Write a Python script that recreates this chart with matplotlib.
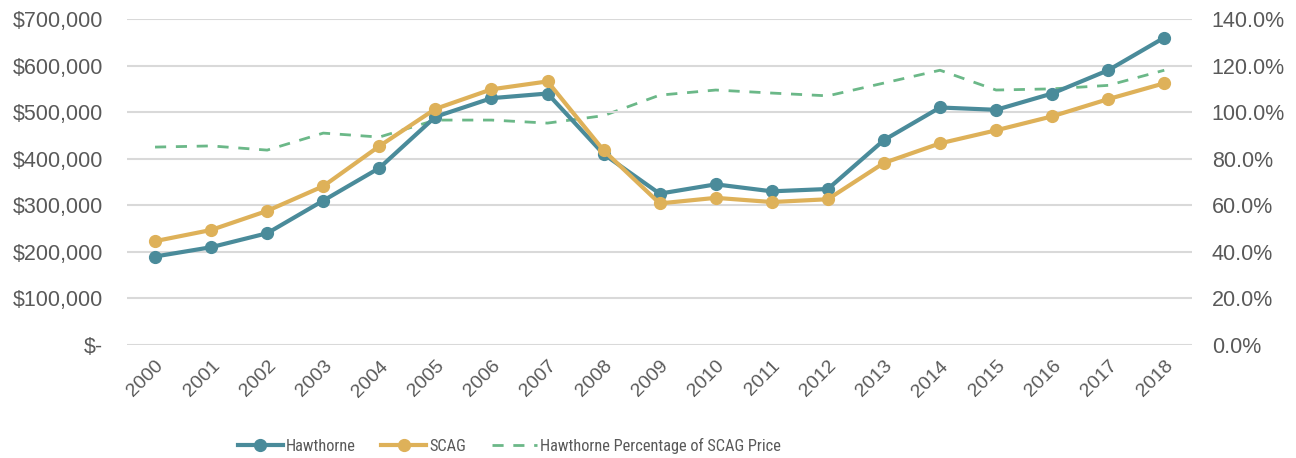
import matplotlib
matplotlib.use("Agg")
import matplotlib.pyplot as plt
from matplotlib.ticker import FuncFormatter, MultipleLocator
from matplotlib import font_manager

years = [str(y) for y in range(2000, 2019)]
hawthorne = [190000, 210000, 240000, 310000, 380000, 490000, 530000, 540000, 410000,
             325000, 345000, 330000, 335000, 440000, 510000, 505000, 540000, 590000, 660000]
scag = [223000, 247000, 288000, 341000, 427000, 507000, 549000, 566000, 418000,
        304000, 316000, 307000, 313000, 391000, 433000, 461000, 491000, 528000, 562000]
pct = [85.0, 85.5, 83.7, 91.0, 89.3, 96.6, 96.6, 95.3, 98.5,
       107.3, 109.5, 108.2, 107.0, 112.5, 118.0, 109.5, 110.0, 111.5, 118.0]

teal = "#4a8b9a"
gold = "#deb159"
green = "#6bb888"
txt = "#595959"

plt.rcParams['font.family'] = ['Liberation Sans', 'DejaVu Sans']

# pick a narrow font for the legend if one is installed
legend_family = 'Liberation Sans'
legend_size = 10.5
for fam, size in [('Liberation Sans Narrow', 12.2), ('Roboto Condensed', 11.8)]:
    try:
        font_manager.findfont(font_manager.FontProperties(family=fam), fallback_to_default=False)
        legend_family, legend_size = fam, size
        break
    except Exception:
        pass

fig = plt.figure(figsize=(12.96, 4.58), dpi=100)
ax = fig.add_axes([0.098, 0.2467, 0.822, 0.7118])
ax2 = ax.twinx()

x = list(range(len(years)))
l1, = ax.plot(x, hawthorne, color=teal, lw=3.0, marker='o', ms=8.5, label='Hawthorne', zorder=3)
l2, = ax.plot(x, scag, color=gold, lw=3.0, marker='o', ms=8.5, label='SCAG', zorder=3)
l3, = ax2.plot(x, pct, color=green, lw=2.0, ls=(0, (4, 3.5)), label='Hawthorne Percentage of SCAG Price', zorder=2)

ax.set_zorder(ax2.get_zorder() + 1)
ax.patch.set_visible(False)

ax.set_ylim(0, 700000)
ax.yaxis.set_major_locator(MultipleLocator(100000))
ax.yaxis.set_major_formatter(FuncFormatter(lambda v, p: "$-" if v == 0 else f"${v:,.0f}"))
ax2.set_ylim(0, 140)
ax2.yaxis.set_major_locator(MultipleLocator(20))
ax2.yaxis.set_major_formatter(FuncFormatter(lambda v, p: f"{v:.1f}%"))
ax.set_xlim(-0.5, 18.5)
ax.set_xticks(x)
ax.set_xticklabels(years, rotation=45, ha='right', rotation_mode='anchor')

ax.grid(axis='y', color='#d9d9d9', lw=1.5)
ax.set_axisbelow(True)
for a in (ax, ax2):
    for s in a.spines.values():
        s.set_visible(False)
    a.tick_params(length=0, labelsize=15.5, colors=txt)
ax.tick_params(axis='y', pad=17)
ax.tick_params(axis='x', pad=9, labelsize=14)
ax2.tick_params(axis='y', pad=14)

em_px = legend_size * 100 / 72
leg = fig.legend(handles=[l1, l2, l3], loc='center', bbox_to_anchor=(0.393, 0.027), ncol=3,
                 frameon=False, prop={'family': [legend_family, 'DejaVu Sans'], 'size': legend_size},
                 labelcolor=txt, handlelength=45 / em_px, columnspacing=26 / em_px,
                 handletextpad=3 / em_px)

fig.savefig("out.png", dpi=100)
